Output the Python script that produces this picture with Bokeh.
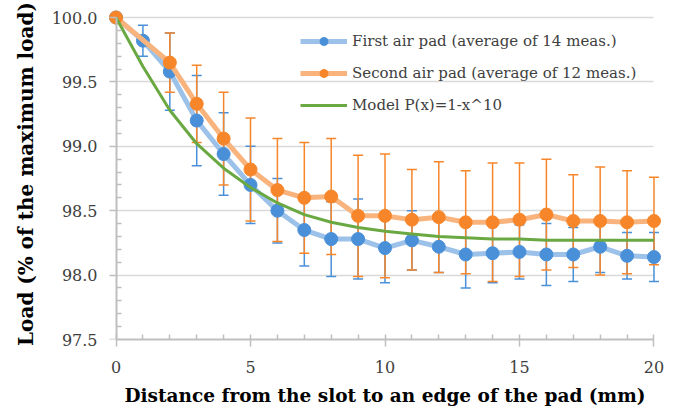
from bokeh.plotting import figure
from bokeh.models import (Range1d, Legend, LegendItem, Whisker, ColumnDataSource, LinearAxis,
                          FixedTicker, SingleIntervalTicker, TeeHead, PrintfTickFormatter)
from bokeh.embed import file_html
from bokeh.resources import INLINE

# ---- data ----
x_first = [0, 1, 2, 3, 4, 5, 6, 7, 8, 9, 10, 11, 12, 13, 14, 15, 16, 17, 18, 19, 20]
y_first = [100.0, 99.82, 99.58, 99.20, 98.94, 98.70, 98.50, 98.35, 98.28, 98.28, 98.21,
           98.27, 98.22, 98.16, 98.17, 98.18, 98.16, 98.16, 98.22, 98.15, 98.14]
err_first = [0.0, 0.12, 0.30, 0.35, 0.32, 0.30, 0.25, 0.28, 0.29, 0.31, 0.27,
             0.23, 0.20, 0.26, 0.23, 0.21, 0.24, 0.21, 0.20, 0.18, 0.19]

x_second = [0, 2, 3, 4, 5, 6, 7, 8, 9, 10, 11, 12, 13, 14, 15, 16, 17, 18, 19, 20]
y_second = [100.0, 99.65, 99.33, 99.06, 98.82, 98.66, 98.60, 98.61, 98.46, 98.46,
            98.43, 98.45, 98.41, 98.41, 98.43, 98.47, 98.42, 98.42, 98.41, 98.42]
err_second = [0.0, 0.23, 0.30, 0.36, 0.40, 0.40, 0.43, 0.45, 0.47, 0.48,
              0.39, 0.43, 0.40, 0.46, 0.44, 0.43, 0.36, 0.42, 0.40, 0.34]

x_model = [0, 1, 2, 3, 4, 5, 6, 7, 8, 9, 10, 11, 12, 13, 14, 15, 16, 17, 18, 19, 20]
y_model = [100.0, 99.62, 99.28, 99.02, 98.83, 98.68, 98.56, 98.47, 98.41, 98.37, 98.34,
           98.32, 98.30, 98.29, 98.28, 98.28, 98.27, 98.27, 98.27, 98.27, 98.27]

y_ticks = [97.5, 98.0, 98.5, 99.0, 99.5, 100.0]
y_minor = [97.6, 97.7, 97.8, 97.9, 98.1, 98.2, 98.3, 98.4, 98.6, 98.7, 98.8, 98.9,
           99.1, 99.2, 99.3, 99.4, 99.6, 99.7, 99.8, 99.9]

labels = ["First air pad (average of 14 meas.)",
          "Second air pad (average of 12 meas.)",
          "Model P(x)=1-x^10"]
x_title = "Distance from the slot to an edge of the pad (mm)"
y_title = "Load (% of the maximum load)"

# ---- style ----
BLUE = "#4A90D9"
BLUE_LINE = "#9CC2EA"
ORANGE = "#F7862A"
ORANGE_LINE = "#F9B47E"
GREEN = "#6AA842"
GRID = "#D9D9D9"
AXIS = "#BFBFBF"
FONT = "DejaVu Serif"

src1 = ColumnDataSource(dict(x=x_first, y=y_first,
                             lo=[a - b for a, b in zip(y_first, err_first)],
                             hi=[a + b for a, b in zip(y_first, err_first)]))
src2 = ColumnDataSource(dict(x=x_second, y=y_second,
                             lo=[a - b for a, b in zip(y_second, err_second)],
                             hi=[a + b for a, b in zip(y_second, err_second)]))

p = figure(width=675, height=410, output_backend="svg", toolbar_location=None,
           x_range=Range1d(-0.28, 20.28), y_range=Range1d(97.5, 100.07),
           min_border_left=108, min_border_right=14, min_border_top=8, min_border_bottom=71)
p.outline_line_color = None
p.background_fill_color = "white"
p.border_fill_color = "white"


def style_ticks(ax):
    ax.axis_line_color = AXIS
    ax.axis_line_width = 2
    ax.major_tick_line_color = AXIS
    ax.minor_tick_line_color = AXIS
    ax.major_tick_line_width = 1.5
    ax.minor_tick_line_width = 1.5
    ax.major_tick_out = 7
    ax.major_tick_in = 0
    ax.minor_tick_out = 0
    ax.minor_tick_in = 5


# x axis
xax = p.xaxis[0]
xax.ticker = SingleIntervalTicker(interval=5, num_minor_ticks=5)
xax.bounds = (0, 20)
style_ticks(xax)
xax.major_label_text_font = FONT
xax.major_label_text_font_size = "16px"
xax.major_label_text_color = "#404040"
xax.major_label_standoff = 14
xax.axis_label = x_title
xax.axis_label_text_font = FONT
xax.axis_label_text_font_style = "bold"
xax.axis_label_text_font_size = "18.5px"
xax.axis_label_text_color = "#000000"
xax.axis_label_standoff = 9

# y axis: labels + title at the frame side
yax = p.yaxis[0]
yax.ticker = FixedTicker(ticks=y_ticks, minor_ticks=y_minor)
yax.formatter = PrintfTickFormatter(format="%.1f")
yax.axis_line_color = None
yax.major_tick_line_color = None
yax.minor_tick_line_color = None
yax.major_tick_out = 0
yax.major_tick_in = 0
yax.minor_tick_out = 0
yax.minor_tick_in = 0
yax.major_label_text_font = FONT
yax.major_label_text_font_size = "16px"
yax.major_label_text_color = "#404040"
yax.major_label_standoff = 11
yax.axis_label = y_title
yax.axis_label_text_font = FONT
yax.axis_label_text_font_style = "bold"
yax.axis_label_text_font_size = "20px"
yax.axis_label_text_color = "#000000"
yax.axis_label_standoff = 11

# y axis line and ticks at x = 0
yline = LinearAxis(ticker=FixedTicker(ticks=y_ticks, minor_ticks=y_minor),
                   bounds=(97.5, 100), fixed_location=0,
                   major_label_overrides={v: "" for v in y_ticks},
                   major_label_standoff=0)
style_ticks(yline)
p.add_layout(yline, "left")

p.xgrid.visible = False
g = p.ygrid[0]
g.ticker = FixedTicker(ticks=y_ticks)
g.grid_line_color = GRID
g.grid_line_width = 1.5
if "cross_bounds" in g.properties():
    g.cross_bounds = (0, 20)

# error bars
w1 = Whisker(base="x", upper="hi", lower="lo", source=src1, dimension="height",
             line_color=BLUE, line_width=1.5,
             upper_head=TeeHead(size=10, line_color=BLUE, line_width=1.5),
             lower_head=TeeHead(size=10, line_color=BLUE, line_width=1.5))
w2 = Whisker(base="x", upper="hi", lower="lo", source=src2, dimension="height",
             line_color=ORANGE, line_width=1.5,
             upper_head=TeeHead(size=10, line_color=ORANGE, line_width=1.5),
             lower_head=TeeHead(size=10, line_color=ORANGE, line_width=1.5))
p.add_layout(w1)
p.add_layout(w2)

l1 = p.line("x", "y", source=src1, line_color=BLUE_LINE, line_width=5)
m1 = p.scatter("x", "y", source=src1, marker="circle", size=13,
               fill_color=BLUE, line_color=BLUE)
l2 = p.line("x", "y", source=src2, line_color=ORANGE_LINE, line_width=5)
m2 = p.scatter("x", "y", source=src2, marker="circle", size=13,
               fill_color=ORANGE, line_color=ORANGE)
l3 = p.line(x_model, y_model, line_color=GREEN, line_width=3)

legend = Legend(items=[LegendItem(label=labels[0], renderers=[l1, m1]),
                       LegendItem(label=labels[1], renderers=[l2, m2]),
                       LegendItem(label=labels[2], renderers=[l3])],
                location=(192, 224), orientation="vertical",
                padding=0, margin=0, spacing=12, glyph_width=47, glyph_height=20,
                label_standoff=5, label_height=20,
                border_line_color=None, background_fill_alpha=0,
                label_text_font=FONT, label_text_font_size="15px",
                label_text_color="#404040")
p.add_layout(legend, "center")

open("out.html", "w").write(file_html(p, INLINE))
